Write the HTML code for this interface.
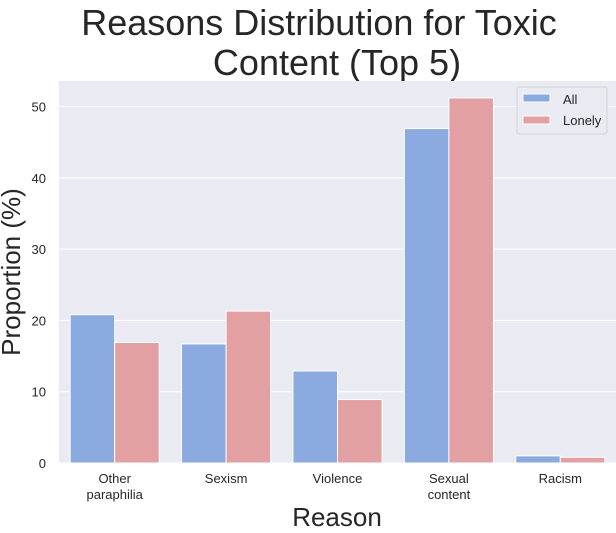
<!DOCTYPE html>
<html><head><meta charset="utf-8"><style>
body{margin:0;background:#fff;font-family:"Liberation Sans",Arial,sans-serif;}
svg text{font-family:"Liberation Sans",Arial,sans-serif;fill:#262626;}
</style></head><body>
<svg id="chart" width="616" height="528" xmlns="http://www.w3.org/2000/svg">
<text x="319" y="35" font-size="36" text-anchor="middle">Reasons Distribution for Toxic</text>
<text x="337" y="75" font-size="36" text-anchor="middle">Content (Top 5)</text>
<rect x="59" y="81" width="557" height="382" fill="#eaeaf2"/>
<g id="grid"></g><g id="bars"></g><g id="xlabels"></g>
<text transform="translate(20,272) rotate(-90)" font-size="26" text-anchor="middle">Proportion (%)</text>
<text x="337" y="526" font-size="26" text-anchor="middle">Reason</text>
<g>
<rect x="517" y="87" width="90" height="47" rx="2" fill="#eaeaf2" stroke="#ccc" stroke-width="0.8"/>
<rect x="523" y="94" width="27" height="8" fill="#8aaae0" stroke="#fff"/>
<text x="563" y="104" font-size="13">All</text>
<rect x="523" y="116" width="27" height="8" fill="#e2a0a3" stroke="#fff"/>
<text x="563" y="125" font-size="13">Lonely</text>
</g>
</svg>
<script>
const categories=[["Other","paraphilia"],["Sexism"],["Violence"],["Sexual","content"],["Racism"]];
const allValues=[20.8,16.7,12.9,46.9,1.0];
const lonelyValues=[16.9,21.3,8.9,51.2,0.8];
const yTicks=[0,10,20,30,40,50];
const NS="http://www.w3.org/2000/svg";
const L=59,R=616,B=463,pxPer=7.13;
const y=v=>B-v*pxPer;
const cw=(R-L)/categories.length;
const x=i=>L+cw*i;
function mk(t,a,p){const e=document.createElementNS(NS,t);for(const k in a)e.setAttribute(k,a[k]);p.appendChild(e);return e;}
const grid=document.getElementById('grid'),bars=document.getElementById('bars'),xl=document.getElementById('xlabels');
yTicks.forEach(t=>{
 const ln=mk('line',{x1:L,x2:R,y1:y(t),y2:y(t),stroke:'#fff','stroke-width':1},grid);
 
 
 const tx=mk('text',{x:L-13,y:y(t)+5,'font-size':13,'text-anchor':'end'},grid);
 tx.textContent=t;
 
 
});
const bw=cw*0.4;
categories.forEach((c,i)=>{
 const x0=x(i)+cw*0.1;
 const a=mk('rect',{x:x0,y:y(allValues[i]),width:bw,height:allValues[i]*pxPer,fill:'#8aaae0',stroke:'#fff','stroke-width':1},bars);
 
 
 const b=mk('rect',{x:x0+bw,y:y(lonelyValues[i]),width:bw,height:lonelyValues[i]*pxPer,fill:'#e2a0a3',stroke:'#fff','stroke-width':1},bars);
 
 
 c.forEach((s,j)=>{
  const t=mk('text',{x:x(i)+cw/2,y:483+j*16,'font-size':13,'text-anchor':'middle'},xl);
  t.textContent=s;
  
  
 });
});
</script>
</body></html>
